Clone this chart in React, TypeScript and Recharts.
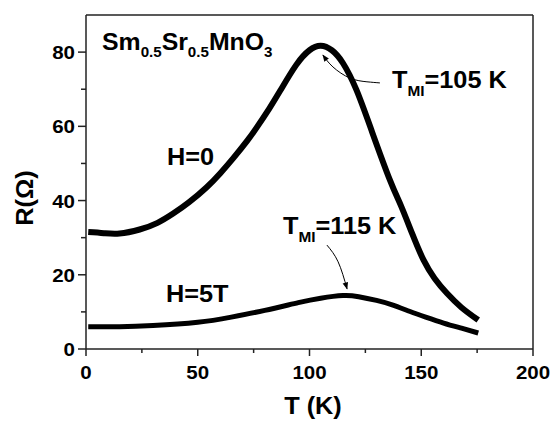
import { LineChart, Line, XAxis, YAxis, ReferenceLine } from "recharts";

// R(T) de Sm0.5Sr0.5MnO3, H=0 e H=5T.
const T_H0 = [1, 8, 15, 24, 32, 39, 46, 54, 60, 66, 72, 76.5, 82, 87, 94, 100, 105, 110, 115, 121, 128, 136, 141, 146, 151, 156, 161.5, 168, 175.5];
const R_H0 = [31.5, 31.2, 31.1, 32.2, 34, 36.5, 39.5, 43.6, 47.3, 51.5, 56, 59.8, 64.8, 69.7, 76.5, 80.5, 81.7, 80.5, 77, 69.8, 58.5, 45.5, 38.5, 31, 24, 19, 15, 11.2, 7.8];

const T_H5 = [1, 15, 30, 50, 65, 80, 95, 105, 115, 122, 130, 137, 145, 152, 160, 168, 175.5];
const R_H5 = [6, 6, 6.3, 7.2, 8.6, 10.4, 12.5, 13.7, 14.4, 14.1, 13.1, 11.9, 10.1, 8.6, 7, 5.6, 4.3];

// setas das anotacoes T_MI
const T_SETA105 = [106, 110.5, 118.1, 125.7, 131.5];
const R_SETA105 = [79.2, 76, 73, 72, 71.7];
const T_SETA115 = [107.8, 112.8, 116.8];
const R_SETA115 = [28, 23.5, 16.2];

const X_MAIOR = [0, 50, 100, 150, 200];
const X_MENOR = [25, 75, 125, 175];
const Y_MAIOR = [0, 20, 40, 60, 80];
const Y_MENOR = [10, 30, 50, 70];

const junta = (ts: number[], rs: number[]) => ts.map((t, i) => ({ t, r: rs[i] }));
const H0 = junta(T_H0, R_H0);
const H5 = junta(T_H5, R_H5);
const SETA105 = junta(T_SETA105, R_SETA105);
const SETA115 = junta(T_SETA115, R_SETA115);

const FONTE = "'Liberation Sans', Arial, sans-serif";
const EIXO = "#222";

function XTick({ x, y, payload }: any) {
  const maior = X_MAIOR.includes(payload.value);
  return (
    <g>
      <line x1={x} x2={x} y1={y} y2={y + (maior ? 7 : 4)} stroke={EIXO} strokeWidth={1.5} />
      {maior && (
        <text
          transform={`translate(${x},${y + 30}) scale(1.08,1)`}
          textAnchor="middle"
          fontSize={19}
          fontWeight="bold"
          fontFamily={FONTE}
          fill="#000"
        >
          {payload.value}
        </text>
      )}
    </g>
  );
}

function YTick({ x, y, payload }: any) {
  const maior = Y_MAIOR.includes(payload.value);
  return (
    <g>
      <line x1={x} x2={x - (maior ? 8 : 5)} y1={y} y2={y} stroke={EIXO} strokeWidth={1.5} />
      {maior && (
        <text
          transform={`translate(${x - 11},${y + 7}) scale(1.08,1)`}
          textAnchor="end"
          fontSize={19}
          fontWeight="bold"
          fontFamily={FONTE}
          fill="#000"
        >
          {payload.value}
        </text>
      )}
    </g>
  );
}

function Rotulo({ x, y, sx = 1.1, size = 23, anchor = "start", rot = 0, children }: any) {
  return (
    <text
      transform={`translate(${x},${y}) rotate(${rot}) scale(${sx},1)`}
      textAnchor={anchor}
      fontSize={size}
      fontWeight="bold"
      fontFamily={FONTE}
      fill="#000"
    >
      {children}
    </text>
  );
}

export default function App() {
  return (
    <div style={{ position: "absolute", left: 0, top: 0, width: 551, height: 421, background: "#fff" }}>
      <svg width={0} height={0} style={{ position: "absolute" }}>
        <defs>
          <marker
            id="ponta"
            viewBox="0 0 10 10"
            refX={9}
            refY={5}
            markerWidth={8}
            markerHeight={7}
            markerUnits="userSpaceOnUse"
            orient="auto-start-reverse"
          >
            <path d="M0,1 L10,5 L0,9 z" fill="#000" />
          </marker>
        </defs>
      </svg>
      <LineChart width={551} height={421} margin={{ top: 15, right: 18, bottom: 0, left: 0 }}>
        <XAxis
          type="number"
          dataKey="t"
          domain={[0, 200]}
          ticks={[...X_MAIOR, ...X_MENOR].sort((a, b) => a - b)}
          interval={0}
          height={72}
          tickLine={false}
          tickSize={0}
          tickMargin={0}
          tick={(p: any) => <XTick {...p} />}
          axisLine={{ stroke: EIXO, strokeWidth: 1.5 }}
        />
        <YAxis
          type="number"
          dataKey="r"
          domain={[0, 90]}
          ticks={[...Y_MAIOR, ...Y_MENOR].sort((a, b) => a - b)}
          interval={0}
          width={86}
          tickLine={false}
          tickSize={0}
          tickMargin={0}
          tick={(p: any) => <YTick {...p} />}
          axisLine={{ stroke: EIXO, strokeWidth: 1.5 }}
        />
        <ReferenceLine y={90} stroke={EIXO} strokeWidth={1.5} />
        <ReferenceLine x={200} stroke={EIXO} strokeWidth={1.5} />
        <Line data={H0} dataKey="r" type="natural" stroke="#000" strokeWidth={6} strokeLinecap="butt" dot={false} isAnimationActive={false} />
        <Line data={H5} dataKey="r" type="natural" stroke="#000" strokeWidth={5} strokeLinecap="butt" dot={false} isAnimationActive={false} />
        <Line data={SETA105} dataKey="r" type="natural" stroke="#000" strokeWidth={1} dot={false} markerStart="url(#ponta)" isAnimationActive={false} />
        <Line data={SETA115} dataKey="r" type="natural" stroke="#000" strokeWidth={1} dot={false} markerEnd="url(#ponta)" isAnimationActive={false} />
      </LineChart>
      <svg width={551} height={421} style={{ position: "absolute", left: 0, top: 0, pointerEvents: "none" }}>
        <Rotulo x={102} y={50} sx={1.08}>
          Sm<tspan fontSize={14} dy={7}>0.5</tspan>
          <tspan dy={-7}>Sr</tspan>
          <tspan fontSize={14} dy={7}>0.5</tspan>
          <tspan dy={-7}>MnO</tspan>
          <tspan fontSize={14} dy={7}>3</tspan>
        </Rotulo>
        <Rotulo x={167} y={165}>H=0</Rotulo>
        <Rotulo x={166} y={302}>H=5T</Rotulo>
        <Rotulo x={392} y={88}>
          T<tspan fontSize={14} dy={8}>MI</tspan>
          <tspan dy={-8}>=105 K</tspan>
        </Rotulo>
        <Rotulo x={283} y={234}>
          T<tspan fontSize={14} dy={8}>MI</tspan>
          <tspan dy={-8}>=115 K</tspan>
        </Rotulo>
        <Rotulo x={313} y={414} anchor="middle">T (K)</Rotulo>
        <Rotulo x={33} y={198} anchor="middle" rot={-90}>R(Ω)</Rotulo>
      </svg>
    </div>
  );
}
